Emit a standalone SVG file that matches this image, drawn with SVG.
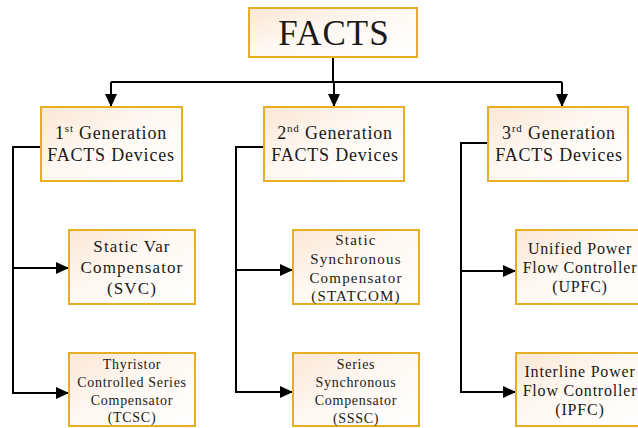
<svg xmlns="http://www.w3.org/2000/svg" width="638" height="428" viewBox="0 0 638 428">
<defs>
<linearGradient id="g" x1="0" y1="0" x2="1" y2="1">
<stop offset="0" stop-color="#FBE6D4"/>
<stop offset="0.45" stop-color="#FFF8F2"/>
<stop offset="1" stop-color="#FFFFFF"/>
</linearGradient>
<marker id="ah" markerUnits="userSpaceOnUse" markerWidth="14" markerHeight="12" refX="13" refY="6" orient="auto">
<path d="M0,0 L13,6 L0,12 Z" fill="#000"/>
</marker>
</defs>
<style>
.box{fill:url(#g);stroke:#E6AE22;stroke-width:2}
.t{font-family:"Liberation Serif","Times New Roman",serif;fill:#1a1a1a;text-anchor:middle}
.c{fill:none;stroke:#000;stroke-width:2}
</style>
<rect width="638" height="428" fill="#fff"/>
<g id="connectors">
<path class="c" d="M333,57 V82"/>
<path class="c" d="M111,82 H562"/>
<path class="c" d="M111,82 V107" marker-end="url(#ah)"/>
<path class="c" d="M334,82 V107" marker-end="url(#ah)"/>
<path class="c" d="M562,82 V107" marker-end="url(#ah)"/>
<path class="c" d="M41,147 H13 V393 H69" marker-end="url(#ah)"/>
<path class="c" d="M13,268 H69" marker-end="url(#ah)"/>
<path class="c" d="M264,147 H236 V392 H293" marker-end="url(#ah)"/>
<path class="c" d="M236,270 H293" marker-end="url(#ah)"/>
<path class="c" d="M488,143 H461 V392 H516" marker-end="url(#ah)"/>
<path class="c" d="M461,271 H516" marker-end="url(#ah)"/>
</g>
<g id="facts">
<rect class="box" x="249" y="8" width="168" height="49"/>
<text class="t" x="334" y="45" font-size="35" letter-spacing="1">FACTS</text>
</g>
<g id="gen1">
<rect class="box" x="41" y="107" width="141" height="74"/>
<text class="t" x="111" y="139" font-size="18" letter-spacing="0.8">1<tspan font-size="11" dy="-7">st</tspan><tspan dy="7"> Generation</tspan></text>
<text class="t" x="111" y="161" font-size="18" letter-spacing="0.8">FACTS Devices</text>
</g>
<g id="gen2">
<rect class="box" x="264" y="107" width="140" height="74"/>
<text class="t" x="335" y="139" font-size="18" letter-spacing="0.8">2<tspan font-size="11" dy="-7">nd</tspan><tspan dy="7"> Generation</tspan></text>
<text class="t" x="335" y="161" font-size="18" letter-spacing="0.8">FACTS Devices</text>
</g>
<g id="gen3">
<rect class="box" x="488" y="107" width="140" height="74"/>
<text class="t" x="559" y="139" font-size="18" letter-spacing="0.8">3<tspan font-size="11" dy="-7">rd</tspan><tspan dy="7"> Generation</tspan></text>
<text class="t" x="559" y="161" font-size="18" letter-spacing="0.8">FACTS Devices</text>
</g>
<g id="svc">
<rect class="box" x="69" y="230" width="126" height="74"/>
<text class="t" font-size="17" letter-spacing="1.1"><tspan x="132" y="252">Static Var</tspan><tspan x="132" y="273">Compensator</tspan><tspan x="132" y="294">(SVC)</tspan></text>
</g>
<g id="statcom">
<rect class="box" x="293" y="230" width="126" height="74"/>
<text class="t" font-size="15" letter-spacing="1.2"><tspan x="356" y="245">Static</tspan><tspan x="356" y="264">Synchronous</tspan><tspan x="356" y="283">Compensator</tspan><tspan x="356" y="301">(STATCOM)</tspan></text>
</g>
<g id="upfc">
<rect class="box" x="516" y="230" width="126" height="74"/>
<text class="t" font-size="16" letter-spacing="0.8"><tspan x="580" y="254">Unified Power</tspan><tspan x="580" y="273">Flow Controller</tspan><tspan x="580" y="292">(UPFC)</tspan></text>
</g>
<g id="tcsc">
<rect class="box" x="69" y="353" width="126" height="73"/>
<text class="t" font-size="14" letter-spacing="0.7"><tspan x="132" y="369">Thyristor</tspan><tspan x="132" y="387">Controlled Series</tspan><tspan x="132" y="405">Compensator</tspan><tspan x="132" y="422">(TCSC)</tspan></text>
</g>
<g id="sssc">
<rect class="box" x="293" y="353" width="126" height="73"/>
<text class="t" font-size="14" letter-spacing="0.7"><tspan x="356" y="369">Series</tspan><tspan x="356" y="387">Synchronous</tspan><tspan x="356" y="405">Compensator</tspan><tspan x="356" y="423">(SSSC)</tspan></text>
</g>
<g id="ipfc">
<rect class="box" x="516" y="353" width="126" height="73"/>
<text class="t" font-size="16" letter-spacing="0.8"><tspan x="580" y="377">Interline Power</tspan><tspan x="580" y="396">Flow Controller</tspan><tspan x="580" y="415">(IPFC)</tspan></text>
</g>
</svg>
